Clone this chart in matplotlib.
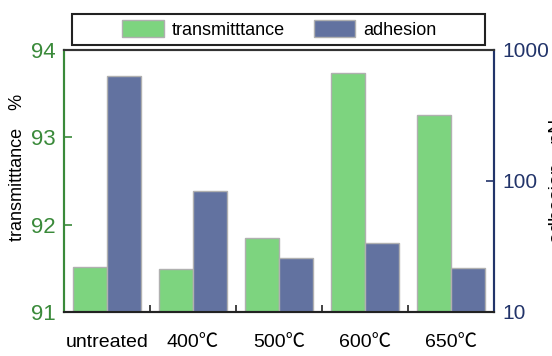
import matplotlib
matplotlib.use("Agg")
import matplotlib.pyplot as plt
from matplotlib.patches import Rectangle
import numpy as np

plt.rcParams['font.family'] = ['Liberation Sans', 'Noto Sans CJK JP', 'DejaVu Sans']

categories = ["untreated", "400℃", "500℃", "600℃", "650℃"]
transmittance = [91.52, 91.49, 91.85, 93.74, 93.25]
adhesion = [630, 84, 26, 33.5, 21.7]

green = "#7dd47f"
blue = "#6272a0"
green_txt = "#3a8a3a"
blue_txt = "#22346a"

fig = plt.figure(figsize=(5.52, 3.56), dpi=100)
ax1 = fig.add_axes([0.116, 0.1236, 0.779, 0.736])
ax2 = ax1.twinx()

x = np.arange(len(categories))
w = 0.4
ax1.bar(x - w / 2, transmittance, w, color=green, edgecolor="#b0b0b0", linewidth=1, label="transmitttance")
ax2.bar(x + w / 2, adhesion, w, color=blue, edgecolor="#b0b0b0", linewidth=1, label="adhesion")

ax1.set_xlim(-0.5, len(categories) - 0.5)
ax1.set_ylim(91, 94)
ax1.set_yticks([91, 92, 93, 94])
ax2.set_yscale("log")
ax2.set_ylim(10, 1000)
ax2.set_yticks([10, 100, 1000])
ax2.set_yticklabels(["10", "100", "1000"])
ax2.yaxis.set_minor_locator(matplotlib.ticker.NullLocator())

ax1.set_xticks(x)
ax1.set_xticklabels(categories, fontsize=14)
ax1.set_xticks(x[:-1] + 0.5, minor=True)
ax1.tick_params(axis="x", which="major", length=0, pad=16)
ax1.tick_params(axis="x", which="minor", direction="in", length=5, width=1.2, color="#222222")

ax1.tick_params(axis="y", direction="in", length=6, width=1.2, colors=green_txt, labelsize=16, pad=6)
ax2.tick_params(axis="y", which="major", direction="in", length=6, width=1.2, colors=blue_txt, labelsize=15, pad=6)

for ax in (ax1, ax2):
    ax.spines["left"].set_color(green_txt)
    ax.spines["right"].set_color(blue_txt)
    ax.spines["top"].set_color("#333333")
    ax.spines["bottom"].set_color("#222222")
    for s in ax.spines.values():
        s.set_linewidth(1.5)

ax1.set_ylabel("transmitttance　%", fontsize=13)
ax1.yaxis.set_label_coords(-0.088, 0.55)
ax2.set_ylabel("adhesion　pN", fontsize=14, labelpad=0, rotation=90)

# legend frame
fig.patches.append(Rectangle((0.130, 0.8736), 0.749, 0.0871, transform=fig.transFigure,
                             fill=False, edgecolor="#222222", linewidth=1.5))
h1, l1 = ax1.get_legend_handles_labels()
h2, l2 = ax2.get_legend_handles_labels()
fig.legend(h1 + h2, l1 + l2, loc="center", bbox_to_anchor=(0.506, 0.917), ncol=2,
           frameon=False, fontsize=13, handlelength=2.3, handleheight=1.1,
           handletextpad=0.45, columnspacing=1.6)

fig.savefig("out.png", dpi=100)
